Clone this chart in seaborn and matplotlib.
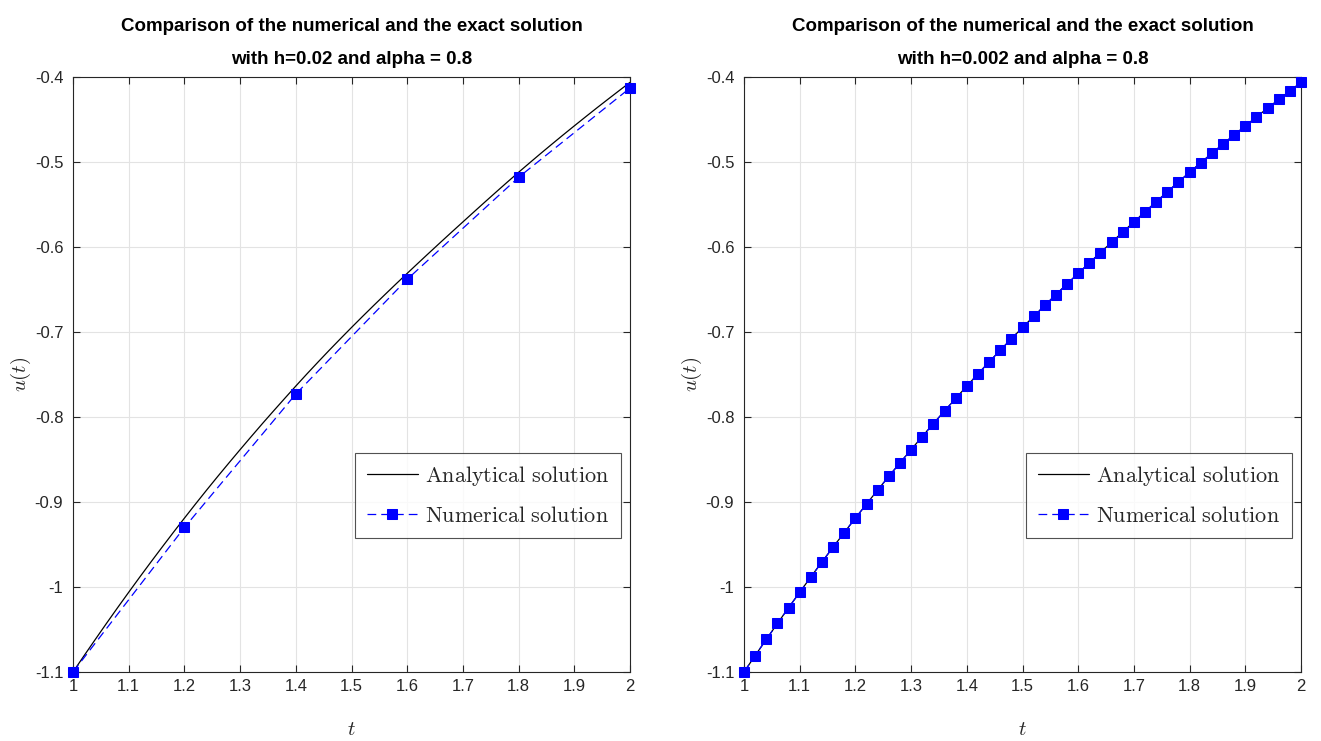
import numpy as np
import matplotlib
matplotlib.use("Agg")
import matplotlib.pyplot as plt
import seaborn as sns

# Time grid of the fine solution
t_fine = np.linspace(1.0, 2.0, 51)

# Exact solution u(t) sampled on the fine grid
u_exact = [-1.1000, -1.0807, -1.0617, -1.0429, -1.0244, -1.0062, -0.9882, -0.9705,
           -0.9531, -0.9359, -0.9190, -0.9023, -0.8859, -0.8698, -0.8540, -0.8384,
           -0.8230, -0.8078, -0.7929, -0.7782, -0.7636, -0.7493, -0.7353, -0.7215,
           -0.7080, -0.6947, -0.6816, -0.6687, -0.6560, -0.6434, -0.6310, -0.6187,
           -0.6065, -0.5944, -0.5824, -0.5705, -0.5586, -0.5468, -0.5351, -0.5235,
           -0.5121, -0.5009, -0.4898, -0.4789, -0.4681, -0.4575, -0.4470, -0.4366,
           -0.4264, -0.4163, -0.4063]

# Numerical solution with the coarse step
t_coarse = [1.0, 1.2, 1.4, 1.6, 1.8, 2.0]
u_num_coarse = [-1.100, -0.930, -0.773, -0.638, -0.518, -0.413]

# Numerical solution with the fine step
u_num_fine = u_exact

titles = ["Comparison of the numerical and the exact solution\nwith h=0.02 and alpha = 0.8",
          "Comparison of the numerical and the exact solution\nwith h=0.002 and alpha = 0.8"]
x_ticks = [1.0, 1.1, 1.2, 1.3, 1.4, 1.5, 1.6, 1.7, 1.8, 1.9, 2.0]
x_tick_labels = ["1", "1.1", "1.2", "1.3", "1.4", "1.5", "1.6", "1.7", "1.8", "1.9", "2"]
y_ticks = [-1.1, -1.0, -0.9, -0.8, -0.7, -0.6, -0.5, -0.4]
y_tick_labels = ["-1.1", "-1", "-0.9", "-0.8", "-0.7", "-0.6", "-0.5", "-0.4"]

sns.set_style("white")
plt.rcParams["font.family"] = ["Liberation Sans", "DejaVu Sans"]
plt.rcParams["mathtext.fontset"] = "cm"

fig = plt.figure(figsize=(13.21, 7.41), dpi=100)
ax_l = fig.add_axes([73 / 1321, 69 / 741, 557 / 1321, 595 / 741])
ax_r = fig.add_axes([744 / 1321, 69 / 741, 557 / 1321, 595 / 741])

panels = [(ax_l, t_coarse, u_num_coarse, titles[0]),
          (ax_r, list(t_fine), u_num_fine, titles[1])]

for ax, tn, un, title in panels:
    sns.lineplot(x=t_fine, y=u_exact, ax=ax, color="black", linewidth=0.9,
                 label=r"$\mathrm{Analytical\ solution}$")
    sns.lineplot(x=tn, y=un, ax=ax, color="#0000ff", linewidth=0.9,
                 linestyle=(0, (7, 4)), marker="s", markersize=7,
                 markeredgecolor="#0000ff", markerfacecolor="#0000ff",
                 label=r"$\mathrm{Numerical\ solution}$", clip_on=False, zorder=4)
    ax.set_xlim(1.0, 2.0)
    ax.set_ylim(-1.1, -0.4)
    ax.set_xticks(x_ticks)
    ax.set_xticklabels(x_tick_labels)
    ax.set_yticks(y_ticks)
    ax.set_yticklabels(y_tick_labels)
    ax.grid(True, color="#e3e3e3", linewidth=0.8)
    ax.set_axisbelow(True)
    ax.tick_params(axis="both", which="both", direction="in", length=5,
                   top=True, right=True, bottom=True, left=True,
                   labelsize=12, colors="#262626", width=0.8)
    ax.tick_params(axis="y", pad=7)
    ax.tick_params(axis="x", pad=5)
    for s in ax.spines.values():
        s.set_color("#262626")
        s.set_linewidth(0.8)
    ax.set_xlabel(r"$t$", fontsize=15, color="#262626", labelpad=19)
    ax.set_ylabel(r"$u(t)$", fontsize=15, color="#262626", labelpad=1)
    ax.set_title(title, fontsize=13.5, fontweight="bold", pad=9, linespacing=2.25,
                 color="black")
    leg = ax.legend(loc="lower right", bbox_to_anchor=(0.984, 0.225),
                    fontsize=16, frameon=True, fancybox=False, edgecolor="#262626",
                    handlelength=2.3, borderpad=0.5, labelspacing=0.8,
                    handletextpad=0.35, borderaxespad=0.0)
    leg.get_frame().set_linewidth(0.8)

fig.savefig("out.png", dpi=100)
